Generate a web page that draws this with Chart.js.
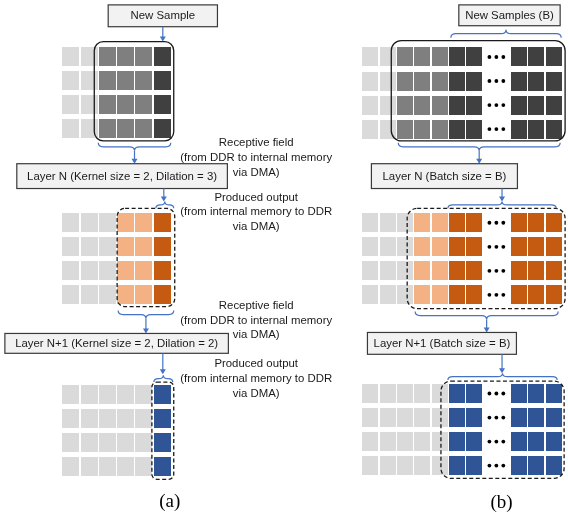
<!DOCTYPE html>
<html>
<head>
<title>Batching diagram</title>
<script src="https://cdn.jsdelivr.net/npm/chart.js@4.4.1/dist/chart.umd.min.js"></script>
<style>
body{margin:0;background:#fff;}
canvas{display:block;}
</style>
</head>
<body>
<canvas id="diagram" width="568" height="518"></canvas>
<script>
// column kinds for each grid (each grid has ROWS rows)
var ROWS = 4;
var colsA1 = ['light','light','gray','gray','gray','dark'];
var colsA2 = ['light','light','light','peach','peach','rust'];
var colsA3 = ['light','light','light','light','light','blue'];
var colsB1 = ['light','light','gray','gray','gray','dark','dark','dots','dark','dark','dark'];
var colsB2 = ['light','light','light','peach','peach','rust','rust','dots','rust','rust','rust'];
var colsB3 = ['light','light','light','light','light','blue','blue','dots','blue','blue','blue'];

var boxLabels = ['New Sample','Layer N (Kernel size = 2, Dilation = 3)','Layer N+1 (Kernel size = 2, Dilation = 2)',
                 'New Samples (B)','Layer N (Batch size = B)','Layer N+1 (Batch size = B)'];
var noteRecv = ['Receptive field','(from DDR to internal memory','via DMA)'];
var noteProd = ['Produced output','(from internal memory to DDR','via DMA)'];
var panelLabels = ['(a)','(b)'];

var colours = {light:'#dadada', gray:'#7f7f7f', dark:'#404040', peach:'#f4b183', rust:'#c55a11', blue:'#2f5597'};

// layout of the grids (left edge, pitch, cell size)
var gridA = {x0:61, pitch:18.35, w:17, h:19, rowPitch:24.2};
var gridB = {x0:363, pitch:17.4, w:16, h:19, rowPitch:24.2, dotsW:28};

function gridData(cols, lay, y0){
  var pts=[], kinds=[], dots=[];
  for(var r=0;r<ROWS;r++){
    var cy = y0 + r*lay.rowPitch + lay.h/2;
    var cur = lay.x0;
    for(var i=0;i<cols.length;i++){
      if(cols[i]==='dots'){
        var mid = cur + lay.dotsW/2 - 1;
        dots.push({x:mid-7,y:cy},{x:mid,y:cy},{x:mid+7,y:cy});
        cur += lay.dotsW;
      } else {
        pts.push({x:cur + lay.w/2, y:cy});
        kinds.push(cols[i]);
        cur += lay.pitch;
      }
    }
  }
  return {pts:pts, kinds:kinds, dots:dots, w:lay.w, h:lay.h};
}

var grids = [
  gridData(colsA1, gridA, 45),
  gridData(colsA2, gridA, 213),
  gridData(colsA3, gridA, 386),
  gridData(colsB1, gridB, 46),
  gridData(colsB2, gridB, 213),
  gridData(colsB3, gridB, 385)
];

var datasets = [];
grids.forEach(function(g){
  datasets.push({data:g.pts, cellKinds:g.kinds, cellW:g.w, cellH:g.h, pointRadius:0, borderWidth:0});
  if(g.dots.length) datasets.push({data:g.dots, pointStyle:'circle', pointRadius:1.9, backgroundColor:'#000', borderColor:'#000', borderWidth:0});
});

var BLUE = '#4472c4';
var FONT = '11.4px "Liberation Sans", Arial, sans-serif';

// cells are drawn at the positions the scatter elements got from the scales
var cells = {
  id:'cells',
  beforeDatasetsDraw: function(chart){
    var ctx = chart.ctx;
    chart.data.datasets.forEach(function(ds, di){
      if(!ds.cellKinds) return;
      var meta = chart.getDatasetMeta(di);
      meta.data.forEach(function(el, i){
        ctx.fillStyle = colours[ds.cellKinds[i]];
        ctx.fillRect(Math.round(el.x - ds.cellW/2), Math.round(el.y - ds.cellH/2), Math.round(ds.cellW), Math.round(ds.cellH));
      });
    });
  }
};

var overlay = {
  id:'overlay',
  afterDatasetsDraw: function(chart){
    var ctx = chart.ctx;
    var X = function(v){return chart.scales.x.getPixelForValue(v);};
    var Y = function(v){return chart.scales.y.getPixelForValue(v);};

    function rrect(x1,y1,x2,y2,r,dashed){
      ctx.save();
      ctx.strokeStyle = '#1a1a1a';
      ctx.lineWidth = 1.3;
      if(dashed) ctx.setLineDash([4,2.5]);
      ctx.beginPath();
      ctx.roundRect(X(x1),Y(y1),X(x2)-X(x1),Y(y2)-Y(y1),r);
      ctx.stroke();
      ctx.restore();
    }
    function box(x1,y1,x2,y2,label){
      ctx.save();
      ctx.fillStyle = '#f2f2f2';
      ctx.strokeStyle = '#3a3a3a';
      ctx.lineWidth = 1.2;
      ctx.fillRect(X(x1),Y(y1),X(x2)-X(x1),Y(y2)-Y(y1));
      ctx.strokeRect(X(x1),Y(y1),X(x2)-X(x1),Y(y2)-Y(y1));
      ctx.fillStyle = '#1a1a1a';
      ctx.font = FONT;
      ctx.textAlign = 'center';
      ctx.textBaseline = 'middle';
      ctx.fillText(label, X((x1+x2)/2), Y((y1+y2)/2)+0.5);
      ctx.restore();
    }
    function arrow(x,y1,y2){
      ctx.save();
      ctx.strokeStyle = BLUE; ctx.fillStyle = BLUE; ctx.lineWidth = 1.2;
      ctx.beginPath(); ctx.moveTo(X(x),Y(y1)); ctx.lineTo(X(x),Y(y2)-4); ctx.stroke();
      ctx.beginPath(); ctx.moveTo(X(x)-3,Y(y2)-5); ctx.lineTo(X(x)+3,Y(y2)-5); ctx.lineTo(X(x),Y(y2)); ctx.closePath(); ctx.fill();
      ctx.restore();
    }
    function brace(x1,x2,y,h){
      var xc=(x1+x2)/2, r=Math.min(5,(x2-x1)/4), m=y+h/2;
      ctx.save();
      ctx.strokeStyle = BLUE; ctx.lineWidth = 1.2;
      ctx.beginPath();
      ctx.moveTo(X(x1),Y(y));
      ctx.quadraticCurveTo(X(x1),Y(m),X(x1+r),Y(m));
      ctx.lineTo(X(xc-r),Y(m));
      ctx.quadraticCurveTo(X(xc),Y(m),X(xc),Y(y+h));
      ctx.quadraticCurveTo(X(xc),Y(m),X(xc+r),Y(m));
      ctx.lineTo(X(x2-r),Y(m));
      ctx.quadraticCurveTo(X(x2),Y(m),X(x2),Y(y));
      ctx.stroke();
      ctx.restore();
    }
    function note(lines,x,y){
      ctx.save();
      ctx.fillStyle = '#1a1a1a';
      ctx.font = FONT;
      ctx.textAlign = 'center';
      ctx.textBaseline = 'middle';
      lines.forEach(function(t,i){ ctx.fillText(t, X(x), Y(y+i*14.7)); });
      ctx.restore();
    }

    // frames around the grids
    rrect(93,40,173,140,9,false);
    rrect(116,208,174,307,8,true);
    rrect(151,383,173,481,5,true);
    rrect(392,39,567,140,10,false);
    rrect(408,208,567,309,10,true);
    rrect(442,382,566,480,10,true);

    // panel (a)
    box(107,3,217,25,boxLabels[0]);
    arrow(162,25,40);
    brace(97,170,142,8);
    arrow(133.5,150,163);
    box(15,163,227,188,boxLabels[1]);
    arrow(163,188,201);
    brace(155,173,208,-7);
    brace(117,173,311,8);
    arrow(145,319,334);
    box(3,334,228,354,boxLabels[2]);
    arrow(162,354,375);
    brace(153,172,383,-7);

    note(noteRecv,256,142.5);
    note(noteProd,256,197);
    note(noteRecv,256,306.5);
    note(noteProd,256,365);

    // panel (b)
    box(460,3,562,24,boxLabels[3]);
    brace(452,563,36,-8);
    brace(399,562,142,8);
    arrow(480.5,150,163);
    box(372,163,519,188,boxLabels[4]);
    arrow(503.5,188,201);
    brace(449,558,208,-7);
    brace(416,560,312,8);
    arrow(488,320,333);
    box(368,333,518,355,boxLabels[5]);
    arrow(503.5,355,374);
    brace(449,559,381,-7);

    ctx.save();
    ctx.fillStyle = '#000';
    ctx.font = '19px "Liberation Serif", "Times New Roman", serif';
    ctx.textAlign = 'center';
    ctx.textBaseline = 'middle';
    ctx.fillText(panelLabels[0], X(169), Y(504));
    ctx.fillText(panelLabels[1], X(503), Y(505));
    ctx.restore();
  }
};

new Chart(document.getElementById('diagram'), {
  type:'scatter',
  data:{datasets:datasets},
  options:{
    responsive:false,
    devicePixelRatio:1,
    animation:false,
    events:[],
    layout:{padding:0},
    plugins:{legend:{display:false}, tooltip:{enabled:false}},
    scales:{
      x:{type:'linear', min:0, max:568, display:false},
      y:{type:'linear', min:0, max:518, reverse:true, display:false}
    },
    elements:{point:{hoverRadius:0}}
  },
  plugins:[cells, overlay]
});
</script>
</body>
</html>
